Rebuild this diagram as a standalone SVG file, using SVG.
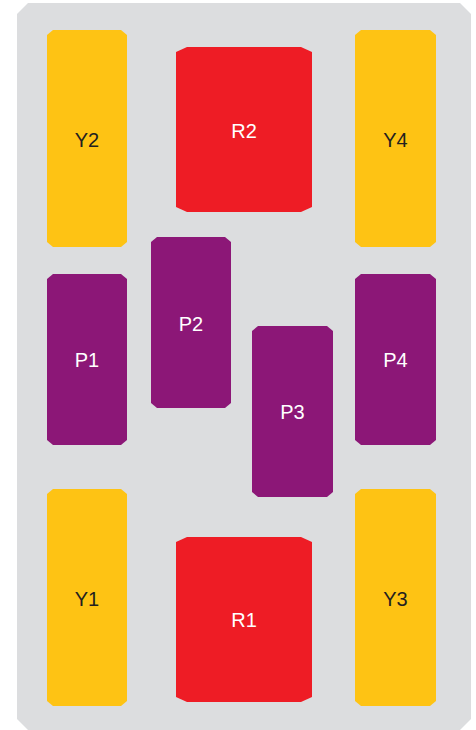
<svg xmlns="http://www.w3.org/2000/svg" width="476" height="730" viewBox="0 0 476 730">
<style>
.panel{fill:#dcdddf}
.y{fill:#fec314}
.r{fill:#ee1c25}
.p{fill:#8c1777}
text{font-family:"Liberation Sans",Arial,sans-serif;font-size:20px;text-anchor:middle}
.dark{fill:#231f20}
.light{fill:#ffffff}
</style>
<rect width="476" height="730" fill="#ffffff"/>
<polygon class="panel" points="28,3 460,3 471,14 471,719 460,730 28,730 17,719 17,14"/>
<g id="Y2"><polygon class="y" points="53,30 121,30 127,35 127,242 121,247 53,247 47,242 47,35"/><text class="dark" x="87" y="147">Y2</text></g>
<g id="R2"><polygon class="r" points="187,47 301,47 312,52 312,207 301,212 187,212 176,207 176,52"/><text class="light" x="244" y="138">R2</text></g>
<g id="Y4"><polygon class="y" points="361,30 430,30 436,35 436,242 430,247 361,247 355,242 355,35"/><text class="dark" x="395.5" y="147">Y4</text></g>
<g id="P1"><polygon class="p" points="53,274 121,274 127,279 127,440 121,445 53,445 47,440 47,279"/><text class="light" x="87" y="367">P1</text></g>
<g id="P2"><polygon class="p" points="157,237 225,237 231,242 231,403 225,408 157,408 151,403 151,242"/><text class="light" x="191" y="331">P2</text></g>
<g id="P3"><polygon class="p" points="258,326 327,326 333,331 333,492 327,497 258,497 252,492 252,331"/><text class="light" x="292.5" y="419">P3</text></g>
<g id="P4"><polygon class="p" points="361,274 430,274 436,279 436,440 430,445 361,445 355,440 355,279"/><text class="light" x="395.5" y="367">P4</text></g>
<g id="Y1"><polygon class="y" points="53,489 121,489 127,494 127,701 121,706 53,706 47,701 47,494"/><text class="dark" x="87" y="606">Y1</text></g>
<g id="R1"><polygon class="r" points="187,537 301,537 312,542 312,697 301,702 187,702 176,697 176,542"/><text class="light" x="244" y="627">R1</text></g>
<g id="Y3"><polygon class="y" points="361,489 430,489 436,494 436,701 430,706 361,706 355,701 355,494"/><text class="dark" x="395.5" y="606">Y3</text></g>
<g id="connectors"></g>
</svg>
